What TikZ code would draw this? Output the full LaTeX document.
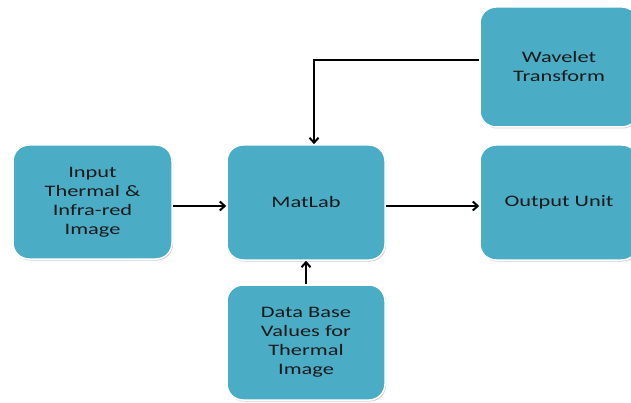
\documentclass[tikz,border=0pt]{standalone}
\usepackage{fontspec}
\setmainfont{Carlito}[FakeStretch=1.4]
\usetikzlibrary{shadows,arrows.meta}
\definecolor{boxfill}{HTML}{4BACC6}
\definecolor{txt}{HTML}{1A1A1A}
\tikzset{
  blk/.style={rectangle, rounded corners=16pt, fill=boxfill, draw=white, line width=1.5pt,
    minimum width=158pt, minimum height=115pt, align=center, text=txt,
    font=\fontsize{16}{19}\selectfont,
    drop shadow={shadow xshift=1pt, shadow yshift=-1.5pt, opacity=0.35, fill=gray}},
  arr/.style={-{Straight Barb[length=5pt,width=9pt,line width=2pt]}, line width=2.4pt, black}
}
\begin{document}
\begin{tikzpicture}[x=1pt,y=1pt]
\useasboundingbox (0,0) rectangle (631,402);
\clip (0,0) rectangle (631,402);
\node[blk, minimum width=159pt, minimum height=114pt] (input) at (92.5,200) {Input\\Thermal \&\\Infra-red\\Image};
\node[blk] (matlab) at (306,199.5) {MatLab};
\node[blk] (data) at (306,59.5) {Data Base\\Values for\\Thermal\\Image};
\node[blk, minimum height=120pt] (wavelet) at (559,335) {Wavelet\\Transform};
\node[blk] (output) at (559,199.5) {Output Unit};
\draw[arr] ([yshift=-4pt]input.east) -- ([yshift=-4pt]input.east -| matlab.west);
\draw[arr] ([yshift=-3.5pt]matlab.east) -- ([yshift=-3.5pt]output.west);
\draw[arr] ([yshift=7pt]wavelet.west) -| ([xshift=8pt]matlab.north);
\draw[arr] (data.north) -- (matlab.south);
\end{tikzpicture}
\end{document}
